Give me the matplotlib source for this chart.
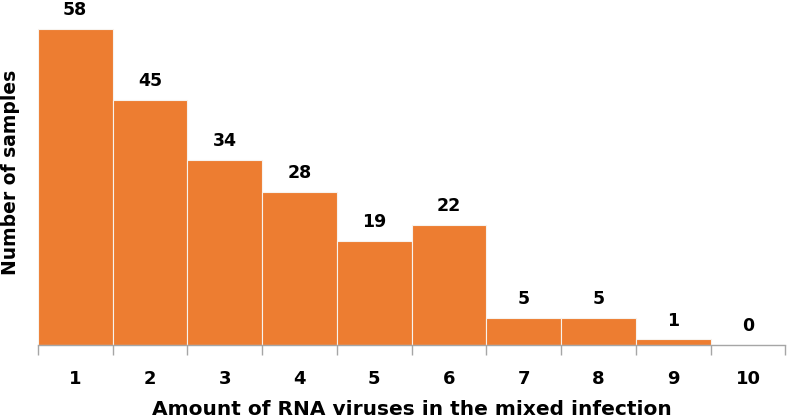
import numpy as np
import matplotlib.pyplot as plt

# Data
virus_counts = [1, 2, 3, 4, 5, 6, 7, 8, 9, 10]
samples = [58, 45, 34, 28, 19, 22, 5, 5, 1, 0]

plt.rcParams['font.family'] = ['DejaVu Sans']

fig = plt.figure(figsize=(7.87, 4.18), dpi=100)
ax = fig.add_axes([0.048, 0.175, 0.950, 0.825])

bars = ax.bar(virus_counts, samples, width=1.0, color='#ED7D31',
              edgecolor='#F7F3EE', linewidth=0.8)

for x, v in zip(virus_counts, samples):
    ax.annotate(str(v), (x, v), xytext=(0, 10), textcoords='offset points',
                ha='center', va='baseline', fontsize=12.5, fontweight='bold',
                color='black')

ax.set_xlim(0.5, 10.5)
ax.set_ylim(0, 63.3)

# ticks at category boundaries, labels at centres
ax.set_xticks(np.arange(0.5, 11, 1.0))
ax.set_xticklabels([])
ax.set_xticks(virus_counts, minor=True)
ax.set_xticklabels([str(c) for c in virus_counts], minor=True,
                   fontsize=13, fontweight='bold')
ax.tick_params(axis='x', which='major', length=7, width=1,
               color='#A6A6A6', direction='out')
ax.tick_params(axis='x', which='minor', length=0, pad=18)
for t in ax.xaxis.get_major_ticks():
    t.tick1line.set_clip_on(False)

ax.set_yticks([])
for s in ['top', 'right', 'left']:
    ax.spines[s].set_visible(False)
ax.spines['bottom'].set_color('#A6A6A6')
ax.spines['bottom'].set_linewidth(1)

ax.set_xlabel('Amount of RNA viruses in the mixed infection',
              fontsize=14.5, fontweight='bold', labelpad=9)
ax.set_ylabel('Number of samples', fontsize=13.5, fontweight='bold',
              labelpad=13)

fig.savefig('out.png', dpi=100)
